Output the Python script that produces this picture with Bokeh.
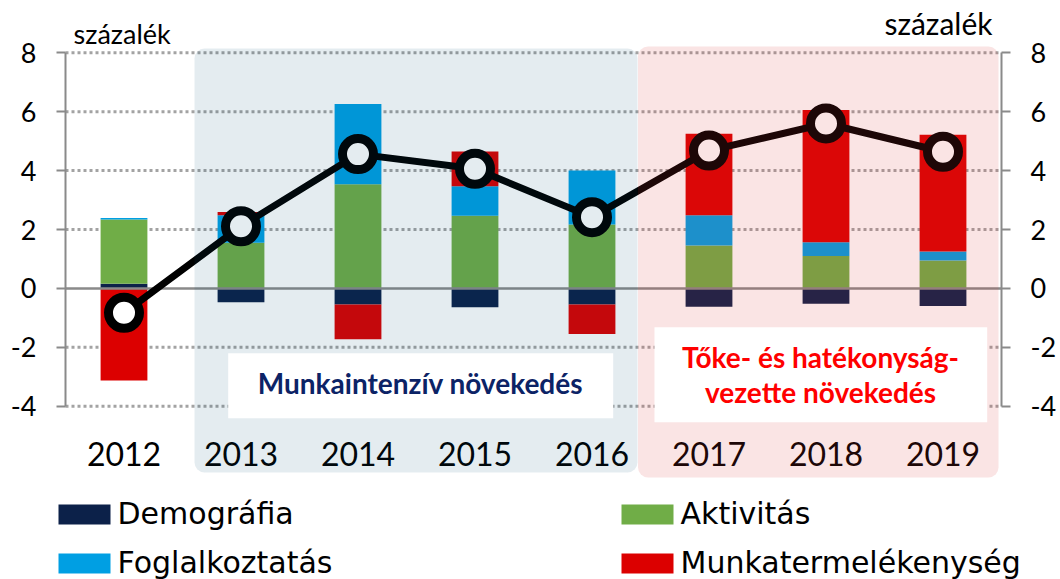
import numpy as np
from bokeh.plotting import figure
from bokeh.models import (Range1d, FactorRange, LinearAxis, FixedTicker, BoxAnnotation,
                          Label, ColumnDataSource)
from bokeh.core.properties import value
from bokeh.embed import file_html
from bokeh.resources import INLINE

# ---------------- data ----------------
years = ["2012", "2013", "2014", "2015", "2016", "2017", "2018", "2019"]
demografia = [0.16, -0.47, -0.55, -0.64, -0.55, -0.62, -0.52, -0.60]
aktivitas = [2.18, 1.55, 3.54, 2.47, 2.17, 1.46, 1.10, 0.95]
foglalkoztatas = [0.05, 0.93, 2.72, 1.00, 1.83, 1.02, 0.47, 0.30]
munkatermelekenyseg = [-3.13, 0.11, -1.18, 1.18, -1.00, 2.77, 4.49, 3.97]
gdp_growth = [-0.83, 2.11, 4.56, 4.06, 2.42, 4.68, 5.60, 4.64]

series_names = ["Demográfia", "Aktivitás", "Foglalkoztatás", "Munkatermelékenység"]
series_colors = ["#0c2149", "#70ad47", "#009fe3", "#dc0000"]
series_values = [demografia, aktivitas, foglalkoztatas, munkatermelekenyseg]
y_ticks = [-4, -2, 0, 2, 4, 6, 8]
y_tick_labels = ["-4", "-2", "0", "2", "4", "6", "8"]
unit_label = "százalék"
label_labour = "Munkaintenzív növekedés"
label_capital = ["Tőke- és hatékonyság-", "vezette növekedés"]

FONT = "Lato"
LEGEND_FONT = "DejaVu Sans"
AXIS_GRAY = "#8a8a8a"

# ---------------- layout geometry (pixels of the 1060x579 canvas) ----------------
W, H = 1060, 579
AX_L, AX_R = 65, 1001            # pixel x of left / right value axes
PX_PER_CAT = (AX_R - AX_L) / len(years)
Y0_PX, PX_PER_UNIT = 287.9, 29.45  # pixel y of value 0, pixels per unit
BORDER_L = (AX_L - 0) - (W - AX_R)  # makes the padding symmetric
pad = (W - AX_R) / PX_PER_CAT

def xs(px):   # canvas pixel x -> synthetic category coordinate
    return (px - AX_L) / PX_PER_CAT

def ys(py):   # canvas pixel y -> value coordinate
    return (Y0_PX - py) / PX_PER_UNIT

p = figure(width=W, height=H,
           x_range=FactorRange(*years, range_padding=pad, range_padding_units="absolute"),
           y_range=Range1d(ys(H), ys(0)), output_backend="svg", toolbar_location=None,
           x_axis_location=None, y_axis_location=None, title=None,
           min_border=0, min_border_left=BORDER_L, min_border_right=0,
           min_border_top=0, min_border_bottom=0)
p.outline_line_color = None
p.background_fill_color = "white"
p.border_fill_color = "white"
p.xgrid.visible = False
p.ygrid.visible = False

def make_axis(loc):
    ax = LinearAxis(fixed_location=loc)
    ax.ticker = FixedTicker(ticks=y_ticks)
    ax.major_label_overrides = {t: s for t, s in zip(y_ticks, y_tick_labels)}
    ax.bounds = (min(y_ticks), max(y_ticks))
    ax.axis_line_color = AXIS_GRAY
    ax.axis_line_width = 2
    ax.major_tick_line_color = AXIS_GRAY
    ax.major_tick_line_width = 2
    ax.major_tick_in = 0
    ax.major_tick_out = 9
    ax.minor_tick_line_color = None
    ax.major_label_text_font = FONT
    ax.major_label_text_font_size = "27px"
    ax.major_label_text_color = "black"
    ax.major_label_standoff = 20
    return ax

p.add_layout(make_axis(0), "left")
p.add_layout(make_axis(len(years)), "right")

# dotted horizontal grid between the two axes
grid_ticks = [t for t in y_ticks if t != 0]
p.segment(x0=0, x1=len(years), y0=grid_ticks, y1=grid_ticks, line_color="#a3a3a3",
          line_width=3, line_dash="3 3")

# stacked bars (positives stack upward, negatives downward)
pos_base = np.zeros(len(years))
neg_base = np.zeros(len(years))
for name, color, vals in zip(series_names, series_colors, series_values):
    v = np.array(vals, dtype=float)
    bottom = np.where(v >= 0, pos_base, neg_base)
    top = bottom + v
    pos_base = np.where(v >= 0, top, pos_base)
    neg_base = np.where(v < 0, top, neg_base)
    p.vbar(x=years, bottom=bottom, top=top, width=0.4, fill_color=color, line_color=None)

# zero line
p.segment(x0=0, x1=len(years), y0=0, y1=0, line_color=AXIS_GRAY, line_width=2.5)

# growth line with markers
src = ColumnDataSource(dict(year=years, g=gdp_growth))
p.line(x="year", y="g", source=src, line_color="black", line_width=7)
p.scatter(x="year", y="g", source=src, marker="circle", size=31, line_width=9,
          line_color="black", fill_color="white")

# category labels
p.text(x="year", y=ys(453), text="year", source=src, text_font=value(FONT),
       text_font_size="32px", text_align="center", text_baseline="middle", text_color="black")

# unit labels
p.text(x=[xs(73)], y=[ys(33)], text=[unit_label], text_font=value(FONT), text_font_size="27px",
       text_align="left", text_baseline="middle", text_color="black")
p.text(x=[xs(992)], y=[ys(22)], text=[unit_label], text_font=value(FONT), text_font_size="30px",
       text_align="right", text_baseline="middle", text_color="black")

# legend (two columns)
n = len(series_names)
cols = np.arange(n) % 2
rows = np.arange(n) // 2
sq_left = 58 + cols * 563
sq_top = 504 + rows * 49
lsrc = ColumnDataSource(dict(left=xs(sq_left), right=xs(sq_left + 52),
                             top=ys(sq_top), bottom=ys(sq_top + 20),
                             tx=xs(sq_left + 59), ty=ys(sq_top + 9),
                             name=series_names, color=series_colors))
p.quad(left="left", right="right", top="top", bottom="bottom", fill_color="color",
       line_color=None, source=lsrc)
p.text(x="tx", y="ty", text="name", source=lsrc, text_font=value(LEGEND_FONT),
       text_font_size="30px", text_align="left", text_baseline="middle", text_color="black")

# shaded periods (translucent, drawn over bars and line)
p.add_layout(BoxAnnotation(left=xs(194), right=xs(637), bottom=ys(472), top=ys(48),
                           fill_color="#004a70", fill_alpha=0.105, line_color=None,
                           border_radius=10))
p.add_layout(BoxAnnotation(left=xs(637.5), right=xs(998), bottom=ys(477), top=ys(46),
                           fill_color="#da3434", fill_alpha=0.133, line_color=None,
                           border_radius=10))

# text boxes
p.add_layout(BoxAnnotation(left=xs(227.7), right=xs(612.7), bottom=ys(417.7), top=ys(352.7),
                           fill_color="white", fill_alpha=1, line_color=None))
p.add_layout(Label(x=xs(420), y=ys(382), text=label_labour, text_font=FONT,
                   text_font_size="28px", text_font_style="bold", text_color="#0c2366",
                   text_align="center", text_baseline="middle"))
p.add_layout(BoxAnnotation(left=xs(654), right=xs(986.7), bottom=ys(421.7), top=ys(326.7),
                           fill_color="white", fill_alpha=1, line_color=None))
for line_text, py in zip(label_capital, [356.7, 391.7]):
    p.add_layout(Label(x=xs(820), y=ys(py), text=line_text, text_font=FONT,
                       text_font_size="28px", text_font_style="bold", text_color="#ff0000",
                       text_align="center", text_baseline="middle"))

open("out.html", "w").write(file_html(p, INLINE))
